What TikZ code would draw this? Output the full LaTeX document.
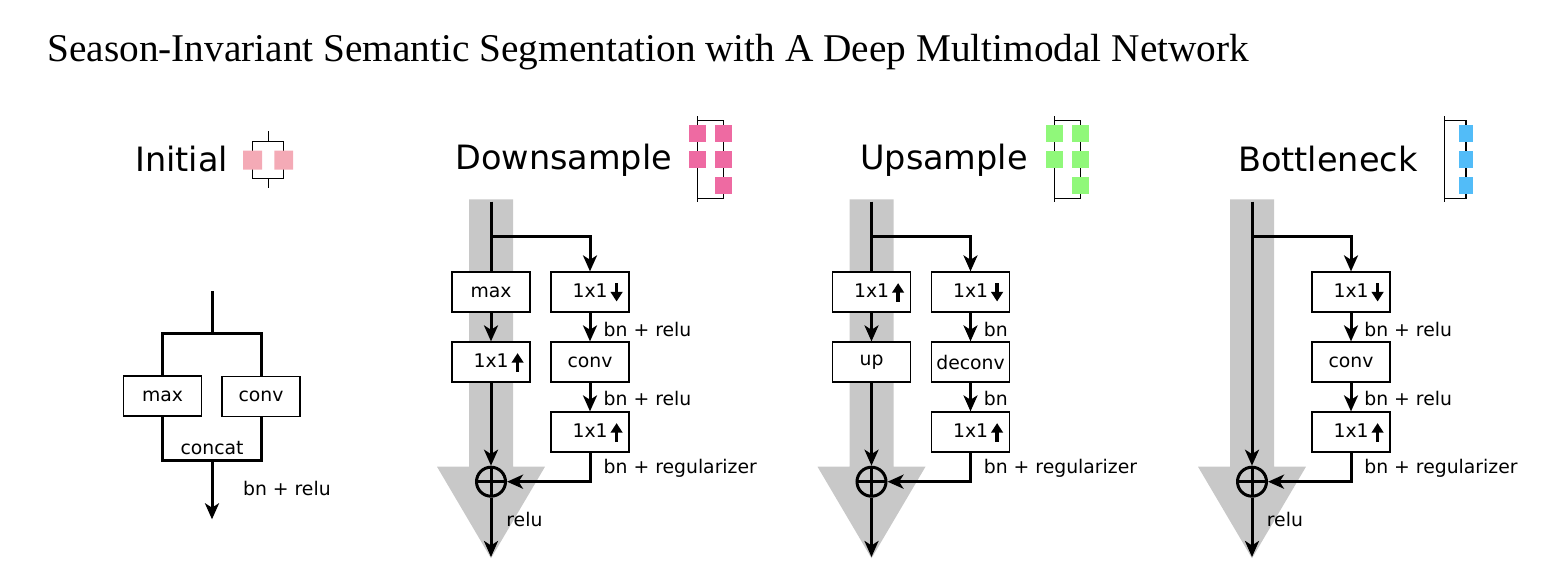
\documentclass[tikz,border=0pt]{standalone}
\usepackage{fontspec}
\setmainfont{Liberation Serif}
\newfontfamily\dejavu{DejaVu Sans}
\usetikzlibrary{arrows.meta,positioning}

\definecolor{shaftgray}{HTML}{C8C8C8}
\definecolor{initpink}{HTML}{F4AAB6}
\definecolor{downpink}{HTML}{EE6AA2}
\definecolor{upgreen}{HTML}{90F87A}
\definecolor{bottleblue}{HTML}{52BCF8}

% small thick arrows used inside the 1x1 boxes
\newcommand{\dnarr}{\tikz[baseline=0pt]\draw[line width=1.6pt,-{Triangle[length=4.8pt,width=5.8pt]}] (0,7.4pt) -- (0,-1.8pt);}
\newcommand{\uparr}{\tikz[baseline=0pt]\draw[line width=1.6pt,-{Triangle[length=4.8pt,width=5.8pt]}] (0,-1.8pt) -- (0,7.4pt);}

\begin{document}
\begin{tikzpicture}[x=0.5pt,y=-0.5pt,
    node distance=35pt,
    layer/.style={rectangle, draw=black, line width=0.9pt, minimum width=39pt, minimum height=20pt, inner sep=0pt, fill=white, font=\dejavu\fontsize{9.4}{11}\selectfont},
    note/.style={anchor=base west, inner sep=0pt, font=\dejavu\fontsize{9.4}{11}\selectfont},
    heading/.style={anchor=base, inner sep=0pt, font=\dejavu\fontsize{16.75}{20}\selectfont},
    sum/.style={circle, draw=black, line width=1.5pt, minimum size=14.5pt, inner sep=0pt,
        path picture={\draw[line width=1.5pt] (path picture bounding box.north) -- (path picture bounding box.south)
            (path picture bounding box.west) -- (path picture bounding box.east);}},
    flow/.style={line width=1.5pt},
    arrow/.style={line width=1.5pt,-{Stealth[length=8pt,width=7pt,inset=2.2pt]}},
    icon/.style={line width=0.6pt}
]
\useasboundingbox (0,0) rectangle (1544,584);

\node (title) [anchor=base west, inner sep=0pt, font=\fontsize{19.65}{24}\selectfont] at (47,61) {Season-Invariant Semantic Segmentation with A Deep Multimodal Network};

% headings
\node (hinit) [heading] at (181.5,171.7) {Initial};
\node (hdown) [heading] at (563.8,169.3) {Downsample};
\node (hup) [heading] at (944,169.3) {Upsample};
\node (hbottle) [heading] at (1327.8,171.7) {Bottleneck};

% icons
\draw[icon] (268.3,131) -- (268.3,141.3) (268.3,178.3) -- (268.3,187.7);
\draw[icon] (252.6,141.3) rectangle (283.6,178.3);
\fill[initpink] (243,150.7) rectangle (262,169.7) (274.3,150.7) rectangle (293,169.7);
\foreach \ix/\col in {697.5/downpink, 1054.5/upgreen} {
    \draw[icon] (\ix,116) -- (\ix,202.3) (\ix,120.7) -| ({\ix+26},198.3) -- (\ix,198.3);
    \foreach \iy in {125,151} \fill[\col] ({\ix-8.5},\iy) rectangle ({\ix+8.5},{\iy+17});
    \foreach \iy in {125,151,177} \fill[\col] ({\ix+17.5},\iy) rectangle ({\ix+34.5},{\iy+17});
}
\draw[icon] (1444.3,116) -- (1444.3,202.3) (1444.3,120.7) -| (1466,198.3) -- (1444.3,198.3);
\foreach \iy in {125,151,177} \fill[bottleblue] (1459,\iy) rectangle (1473,{\iy+17});

% grey shortcut arrows
\foreach \mx in {491,871.5,1252}
    \fill[shaftgray] ({\mx-22},199.3) -- ({\mx+22},199.3) -- ({\mx+22},466.7) -- ({\mx+54},466.7)
        -- (\mx,558.3) -- ({\mx-54},466.7) -- ({\mx-22},466.7) -- cycle;

% Initial
\coordinate (iin) at (212,291);
\coordinate (isplit) at (212,333.3);
\node (imax) [layer] at (162.5,396.3) {max};
\node (iconv) [layer] at (261,396.5) {conv};
\coordinate (imerge) at (212,460);
\coordinate (iout) at (212,519.3);
\draw[flow] (iin) -- (isplit);
\draw[flow] (imax.north) |- (isplit) -| (iconv.north);
\draw[flow] (imax.south) |- (imerge) -| (iconv.south);
\draw[arrow] (imerge) -- (iout);
\node[note, anchor=base] at (212,454) {concat};
\node[note] at (242.7,495.7) {bn + relu};

% Downsample
\coordinate (din) at (491,201.7);
\coordinate (dsplit) at (491,236);
\node (dmax) [layer] at (491,292.3) {max};
\node (dexp) [layer, below of=dmax] {\hspace*{7.5pt}1x1\,\uparr};
\node (dred) [layer] at (590,292.3) {\hspace*{7.5pt}1x1\,\dnarr};
\node (dconv) [layer, below of=dred] {conv};
\node (dexp2) [layer, below of=dconv] {\hspace*{7.5pt}1x1\,\uparr};
\node (dsum) [sum] at (491,481.7) {};
\coordinate (dout) at (491,557);
\draw[flow] (din) -- (dmax);
\draw[arrow] (dsplit) -| (dred);
\draw[arrow] (dmax) -- (dexp);
\draw[arrow] (dexp) -- (dsum);
\draw[arrow] (dred) -- (dconv);
\draw[arrow] (dconv) -- (dexp2);
\draw[arrow] (dexp2) |- (dsum);
\draw[arrow] (dsum) -- (dout);
\node[note] at (603.3,336) {bn + relu};
\node[note] at (603.3,405.3) {bn + relu};
\node[note] at (603.3,473.3) {bn + regularizer};
\node[note] at (506,526.7) {relu};

% Upsample
\coordinate (uin) at (871.5,201.7);
\coordinate (usplit) at (871.5,236);
\node (uexp) [layer] at (871.5,292.3) {\hspace*{7.5pt}1x1\,\uparr};
\node (uup) [layer, below of=uexp] {up};
\node (ured) [layer] at (970.5,292.3) {\hspace*{7.5pt}1x1\,\dnarr};
\node (udeconv) [layer, below of=ured] {deconv};
\node (uexp2) [layer, below of=udeconv] {\hspace*{7.5pt}1x1\,\uparr};
\node (usum) [sum] at (871.5,481.7) {};
\coordinate (uout) at (871.5,557);
\draw[flow] (uin) -- (uexp);
\draw[arrow] (usplit) -| (ured);
\draw[arrow] (uexp) -- (uup);
\draw[arrow] (uup) -- (usum);
\draw[arrow] (ured) -- (udeconv);
\draw[arrow] (udeconv) -- (uexp2);
\draw[arrow] (uexp2) |- (usum);
\draw[arrow] (usum) -- (uout);
\node[note] at (983.5,336) {bn};
\node[note] at (983.5,405.3) {bn};
\node[note] at (983.5,473.3) {bn + regularizer};

% Bottleneck
\coordinate (bin) at (1252,201.7);
\coordinate (bsplit) at (1252,236);
\node (bred) [layer] at (1351,292.3) {\hspace*{7.5pt}1x1\,\dnarr};
\node (bconv) [layer, below of=bred] {conv};
\node (bexp) [layer, below of=bconv] {\hspace*{7.5pt}1x1\,\uparr};
\node (bsum) [sum] at (1252,481.7) {};
\coordinate (bout) at (1252,557);
\draw[arrow] (bin) -- (bsum);
\draw[arrow] (bsplit) -| (bred);
\draw[arrow] (bred) -- (bconv);
\draw[arrow] (bconv) -- (bexp);
\draw[arrow] (bexp) |- (bsum);
\draw[arrow] (bsum) -- (bout);
\node[note] at (1364,336) {bn + relu};
\node[note] at (1364,405.3) {bn + relu};
\node[note] at (1364,473.3) {bn + regularizer};
\node[note] at (1266.5,526.7) {relu};

\end{tikzpicture}
\end{document}
